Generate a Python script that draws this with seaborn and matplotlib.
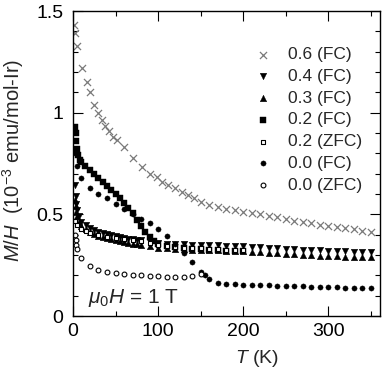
import matplotlib
matplotlib.use("Agg")
import matplotlib.pyplot as plt
import seaborn as sns
from matplotlib.ticker import MultipleLocator

# x = 0.6, field cooled
t06 = [1.5, 2.5, 4.5, 10.5, 16.5, 20, 25, 29.5, 34, 37.5, 42.5, 47, 52, 60, 70.5, 81, 90.5, 99,
       105, 112, 120, 128, 135, 142, 150, 160, 170, 180, 190, 200, 210, 220, 230, 240, 250,
       260, 270, 280, 290, 300, 310, 320, 330, 340, 350]
m06 = [1.43, 1.39, 1.33, 1.22, 1.15, 1.10, 1.04, 1.00, 0.965, 0.935, 0.91, 0.88, 0.865, 0.83,
       0.78, 0.735, 0.70, 0.685, 0.66, 0.645, 0.63, 0.61, 0.595, 0.58, 0.56, 0.545, 0.535,
       0.525, 0.52, 0.51, 0.505, 0.50, 0.49, 0.485, 0.48, 0.47, 0.465, 0.46, 0.45, 0.445,
       0.44, 0.435, 0.43, 0.42, 0.414]

# x = 0.4 / 0.3, field cooled
t04 = [2, 3, 4, 5, 7, 10, 15, 20, 25, 30, 35, 40, 45, 50, 55, 60, 65, 70, 75, 80, 90, 100,
       110, 120, 130, 140, 150, 160, 170, 180, 190, 200, 210, 220, 230, 240, 250, 260, 270,
       280, 290, 300, 310, 320, 330, 340, 350]
m04 = [0.645, 0.59, 0.55, 0.52, 0.49, 0.465, 0.45, 0.435, 0.425, 0.415, 0.41, 0.405, 0.40,
       0.395, 0.39, 0.385, 0.38, 0.378, 0.375, 0.372, 0.365, 0.36, 0.357, 0.355, 0.353, 0.351,
       0.35, 0.349, 0.348, 0.347, 0.346, 0.345, 0.342, 0.34, 0.337, 0.334, 0.331, 0.329,
       0.327, 0.325, 0.323, 0.321, 0.32, 0.318, 0.317, 0.316, 0.315]
t03 = t04
m03 = [0.57, 0.54, 0.51, 0.49, 0.465, 0.445, 0.43, 0.415, 0.405, 0.395, 0.39, 0.385, 0.38,
       0.375, 0.37, 0.365, 0.36, 0.357, 0.354, 0.35, 0.343, 0.335, 0.333, 0.331, 0.329, 0.327,
       0.325, 0.324, 0.323, 0.322, 0.321, 0.32, 0.317, 0.314, 0.311, 0.308, 0.305, 0.303,
       0.301, 0.299, 0.297, 0.295, 0.294, 0.293, 0.292, 0.291, 0.29]

# x = 0.2, field cooled / zero field cooled
t02f = [2, 3, 4, 5, 6, 8, 10, 14, 20, 25, 30, 35, 40, 45, 50, 55, 60, 65, 70, 75, 80, 85, 90,
        95, 100, 110, 120, 130, 140, 150, 160, 170, 180, 190, 200]
m02f = [0.93, 0.90, 0.86, 0.82, 0.79, 0.77, 0.76, 0.74, 0.72, 0.70, 0.68, 0.66, 0.64, 0.62,
        0.60, 0.58, 0.555, 0.53, 0.505, 0.475, 0.445, 0.415, 0.39, 0.37, 0.355, 0.345, 0.34,
        0.335, 0.33, 0.33, 0.325, 0.325, 0.32, 0.32, 0.32]
t02z = [2, 5, 10, 15, 20, 30, 40, 50, 60, 70, 80, 90, 100, 110, 120, 130, 140, 150, 160, 170,
        180, 190, 200]
m02z = [0.47, 0.45, 0.43, 0.42, 0.41, 0.40, 0.39, 0.385, 0.38, 0.375, 0.37, 0.36, 0.35, 0.345,
        0.34, 0.337, 0.335, 0.333, 0.33, 0.328, 0.326, 0.325, 0.324]

# x = 0.0, field cooled / zero field cooled
t00f = [2, 5, 10, 20, 30, 40, 50, 60, 70, 80, 90, 100, 110, 120, 130, 140, 150, 155, 160, 170,
        180, 190, 200, 210, 220, 230, 240, 250, 260, 270, 280, 290, 300, 310, 320, 330, 340, 350]
m00f = [0.80, 0.74, 0.68, 0.63, 0.60, 0.58, 0.55, 0.525, 0.50, 0.48, 0.46, 0.43, 0.395, 0.355,
        0.31, 0.265, 0.215, 0.20, 0.18, 0.165, 0.16, 0.157, 0.155, 0.153, 0.152, 0.151, 0.15,
        0.149, 0.148, 0.146, 0.145, 0.144, 0.143, 0.141, 0.14, 0.139, 0.138, 0.137]
t00z = [2, 3, 4, 5, 10, 20, 30, 40, 50, 60, 70, 80, 90, 100, 110, 120, 130, 140, 150]
m00z = [0.40, 0.375, 0.35, 0.33, 0.285, 0.245, 0.227, 0.217, 0.21, 0.207, 0.203, 0.20, 0.198,
        0.196, 0.193, 0.19, 0.19, 0.195, 0.205]

labels = ["0.6 (FC)", "0.4 (FC)", "0.3 (FC)", "0.2 (FC)", "0.2 (ZFC)", "0.0 (FC)", "0.0 (ZFC)"]
xticks = [0, 100, 200, 300]
yticks = [0, 0.5, 1, 1.5]
yticklabels = ["0", "0.5", "1", "1.5"]

sns.set_style("ticks")
plt.rcParams['font.family'] = ['Liberation Sans', 'DejaVu Sans']
plt.rcParams['mathtext.fontset'] = 'custom'
plt.rcParams['mathtext.rm'] = 'Liberation Sans'
plt.rcParams['mathtext.it'] = 'Liberation Sans:italic'

fig = plt.figure(figsize=(3.82, 3.71), dpi=100)
ax = fig.add_axes([0.191, 0.148, 0.804, 0.822])

sns.scatterplot(x=t06, y=m06, marker="x", s=26, color="#7a7a7a", linewidth=0.9, label=labels[0], ax=ax)
sns.scatterplot(x=t04, y=m04, marker="v", s=22, color="black", edgecolor="black", linewidth=0.3, label=labels[1], ax=ax)
sns.scatterplot(x=t03, y=m03, marker="^", s=22, color="black", edgecolor="black", linewidth=0.3, label=labels[2], ax=ax)
sns.scatterplot(x=t02f, y=m02f, marker="s", s=13, color="black", edgecolor="black", linewidth=0.3, label=labels[3], ax=ax)
sns.scatterplot(x=t02z, y=m02z, marker="s", s=12, facecolor="white", edgecolor="black", linewidth=0.8, label=labels[4], ax=ax)
sns.scatterplot(x=t00f, y=m00f, marker="o", s=14, color="black", edgecolor="black", linewidth=0.3, label=labels[5], ax=ax)
sns.scatterplot(x=t00z, y=m00z, marker="o", s=12, facecolor="white", edgecolor="black", linewidth=0.8, label=labels[6], ax=ax)

ax.set_xlim(0, 361)
ax.set_ylim(0, 1.5)
ax.set_xticks(xticks)
ax.set_yticks(yticks)
ax.set_yticklabels(yticklabels)
ax.xaxis.set_minor_locator(MultipleLocator(50))
ax.yaxis.set_minor_locator(MultipleLocator(0.1))
ax.tick_params(which="both", direction="in", top=True, right=True, width=0.8, colors="black", labelsize=14)
ax.tick_params(which="major", length=7)
ax.tick_params(which="minor", length=3.5)
ax.tick_params(axis="y", which="major", pad=7)
ax.tick_params(axis="x", which="major", pad=5)
for sp in ax.spines.values():
    sp.set_linewidth(1.0)
    sp.set_color("black")

ax.set_xlabel(r"$T$ (K)", fontsize=14)
ax.set_ylabel(r"$M/H$  (10$^{-3}$ emu/mol-Ir)", fontsize=14.5)
ax.xaxis.set_label_coords(0.6, -0.105)
ax.yaxis.set_label_coords(-0.152, 0.51)

ax.text(0.049, 0.043, r"$\mu_0H$ = 1 T", transform=ax.transAxes, fontsize=15, va="baseline")

ax.legend(loc="upper right", bbox_to_anchor=(0.965, 0.905), frameon=False, fontsize=12.5,
          handlelength=1.0, handletextpad=0.95, labelspacing=0.38, borderaxespad=0, markerscale=1.0)

fig.savefig("out.png", dpi=100)
